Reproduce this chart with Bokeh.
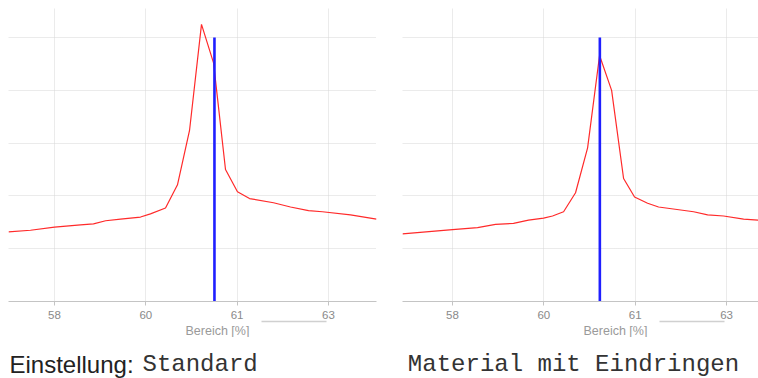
from bokeh.plotting import figure
from bokeh.layouts import row, column
from bokeh.models import Range1d, FixedTicker, Label, LinearAxis, Title
from bokeh.embed import file_html
from bokeh.resources import INLINE

# ---- data (x in tick-position units, y arbitrary) ----
tick_pos = [0, 1, 2, 3]
tick_labels = ["58", "60", "61", "63"]
grid_y = [10, 20, 30, 40, 50]

left_x = [-0.504, -0.263, 0.0, 0.285, 0.427, 0.560, 0.723, 0.942, 1.051, 1.216, 1.347,
          1.479, 1.610, 1.742, 1.873, 2.004, 2.136, 2.399, 2.585, 2.782, 2.935, 3.242, 3.527]
left_y = [13.2, 13.5, 14.1, 14.5, 14.7, 15.3, 15.6, 16.0, 16.6, 17.7, 22.1,
          32.4, 52.5, 45.2, 25.0, 20.8, 19.5, 18.7, 17.9, 17.2, 17.0, 16.4, 15.6]
left_marker_x = [1.752]
left_marker_top = [50]

right_x = [-0.548, 0.0, 0.274, 0.471, 0.668, 0.832, 0.997, 1.095, 1.216, 1.347, 1.479,
           1.610, 1.742, 1.873, 1.993, 2.136, 2.256, 2.640, 2.793, 2.968, 3.187, 3.350]
right_y = [12.8, 13.6, 14.0, 14.6, 14.8, 15.4, 15.8, 16.2, 17.0, 20.6, 29.1,
           46.6, 40.0, 23.3, 19.8, 18.6, 17.9, 17.0, 16.4, 16.2, 15.6, 15.4]
right_marker_x = [1.613]
right_marker_top = [50]

bracket_range = (2.27, 2.98)
x_label = "Bereich [%]"
caption_left_a = "Einstellung:"
caption_left_b = "Standard"
caption_right = "Material mit Eindringen"

SANS = "Liberation Sans"
MONO = "Liberation Mono"


def make_panel(width, xr, border_left, border_right, xs, ys, mx, mtop, label_offset):
    p = figure(width=width, height=337, x_range=Range1d(*xr), y_range=Range1d(0, 55.5),
               output_backend="svg", toolbar_location=None, y_axis_location=None,
               min_border_left=border_left, min_border_right=border_right,
               min_border_top=8, min_border_bottom=20)
    p.outline_line_color = None
    p.background_fill_color = "white"
    p.border_fill_color = "white"

    p.xgrid.ticker = FixedTicker(ticks=tick_pos)
    p.ygrid.ticker = FixedTicker(ticks=grid_y)
    for g in (p.xgrid, p.ygrid):
        g.grid_line_color = "#d6d6d6"
        g.grid_line_dash = "1 1"
        g.grid_line_width = 1

    ax = p.xaxis[0]
    ax.ticker = FixedTicker(ticks=tick_pos)
    ax.major_label_overrides = {t: l for t, l in zip(tick_pos, tick_labels)}
    ax.axis_line_color = "#c4c4c4"
    ax.major_tick_line_color = "#c4c4c4"
    ax.major_tick_in = 0
    ax.major_tick_out = 4
    ax.minor_tick_line_color = None
    ax.major_label_text_color = "#8a8a8a"
    ax.major_label_text_font = SANS
    ax.major_label_text_font_size = "11.5px"
    ax.major_label_standoff = 5

    # short grey bracket line under the tick labels
    ax2 = LinearAxis(ticker=FixedTicker(ticks=[]), bounds=bracket_range,
                     axis_line_color="#d0d0d0", axis_line_width=1.5,
                     major_tick_line_color=None, minor_tick_line_color=None,
                     major_label_text_font_size="0px", major_label_standoff=0,
                     major_tick_out=0, major_tick_in=0)
    p.add_layout(ax2, "below")

    p.add_layout(Title(text=x_label, align="left", offset=label_offset, text_font=SANS,
                       text_font_size="12.5px", text_font_style="normal",
                       text_color="#9a9a9a", standoff=0), "below")

    p.line(xs, ys, line_color="#ff2a2a", line_width=1.2)
    p.segment(x0=mx, y0=[0] * len(mx), x1=mx, y1=mtop, line_color="#1f1fff", line_width=2.6)
    return p


p1 = make_panel(388, (-0.504, 3.527), 8, 12, left_x, left_y, left_marker_x, left_marker_top, 177)
p2 = make_panel(370, (-0.5475, 3.350), 14, 0, right_x, right_y, right_marker_x, right_marker_top, 181)

cap = figure(width=758, height=41, x_range=Range1d(0, 758), y_range=Range1d(0, 41),
             output_backend="svg", toolbar_location=None,
             x_axis_location=None, y_axis_location=None,
             min_border_left=0, min_border_right=0, min_border_top=0, min_border_bottom=0)
cap.outline_line_color = None
cap.xgrid.visible = False
cap.ygrid.visible = False
cap.add_layout(Label(x=9, y=14, text=caption_left_a, text_align="left",
                     text_baseline="alphabetic", text_font=SANS, text_font_size="24px",
                     text_color="#222222"))
cap.add_layout(Label(x=142, y=14, text=caption_left_b, text_align="left",
                     text_baseline="alphabetic", text_font=MONO, text_font_size="24px",
                     text_color="#333333"))
cap.add_layout(Label(x=573, y=14, text=caption_right, text_align="center",
                     text_baseline="alphabetic", text_font=MONO, text_font_size="24px",
                     text_color="#333333"))

layout = column(row(p1, p2), cap)
open("out.html", "w").write(file_html(layout, INLINE))
